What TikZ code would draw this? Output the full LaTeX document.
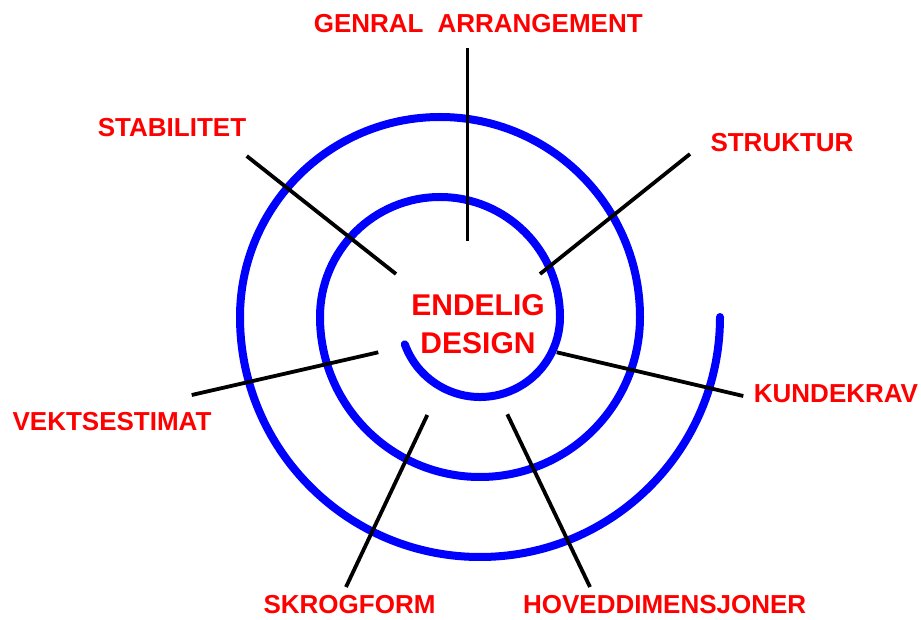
\documentclass[tikz,border=0pt]{standalone}
\usepackage{fontspec}
\setmainfont{Liberation Sans}
\definecolor{spblue}{RGB}{0,0,255}
\definecolor{lblred}{RGB}{255,0,0}
\begin{document}
\begin{tikzpicture}[x=1pt,y=1pt,
  lbl/.style={text=lblred, font=\fontsize{26}{30}\selectfont\bfseries, inner sep=0pt, anchor=center},
  midlbl/.style={text=lblred, font=\fontsize{30}{38}\selectfont\bfseries, inner sep=0pt, align=center},
  conn/.style={line width=3.8pt, black},
  spiralline/.style={line width=8pt, spblue, line cap=round}]
\useasboundingbox (0,0) rectangle (921,619);
\fill[white] (0,0) rectangle (921,619);

% spiral
\coordinate (A) at (480,302);
\draw[spiralline] (A) ++(200:80)
  arc[start angle=200,end angle=360,radius=80]
  arc[start angle=0,end angle=180,radius=120]
  arc[start angle=180,end angle=360,radius=160]
  arc[start angle=0,end angle=180,radius=200]
  arc[start angle=180,end angle=360,radius=240];

% labels
\node[midlbl] (endelig) at (478,295) {ENDELIG\\DESIGN};
\node[lbl] (genral) at (478.3,595) {GENRAL\hspace{14pt}ARRANGEMENT};
\node[lbl] (stab) at (172,491.2) {STABILITET};
\node[lbl] (struk) at (782,476) {STRUKTUR};
\node[lbl] (kund) at (836,225.2) {KUNDEKRAV};
\node[lbl] (vekt) at (112,197.3) {VEKTSESTIMAT};
\node[lbl] (skrog) at (349.5,14) {SKROGFORM};
\node[lbl] (hoved) at (664.7,14) {HOVEDDIMENSJONER};

% connector end points
\coordinate (g1) at (467.5,571);  \coordinate (g2) at (467.5,378);
\coordinate (s1) at (246.7,463);  \coordinate (s2) at (396,345);
\coordinate (t1) at (690,465);    \coordinate (t2) at (540,345);
\coordinate (k1) at (743.3,223);  \coordinate (k2) at (556.7,266.7);
\coordinate (h1) at (590,32);     \coordinate (h2) at (507.3,204.7);
\coordinate (r1) at (346,32);     \coordinate (r2) at (427.3,204);
\coordinate (v1) at (191.7,224);  \coordinate (v2) at (378.3,266.7);

\draw[conn] (g1) -- (g2);
\draw[conn] (s1) -- (s2);
\draw[conn] (t1) -- (t2);
\draw[conn] (k1) -- (k2);
\draw[conn] (h1) -- (h2);
\draw[conn] (r1) -- (r2);
\draw[conn] (v1) -- (v2);
\end{tikzpicture}
\end{document}
